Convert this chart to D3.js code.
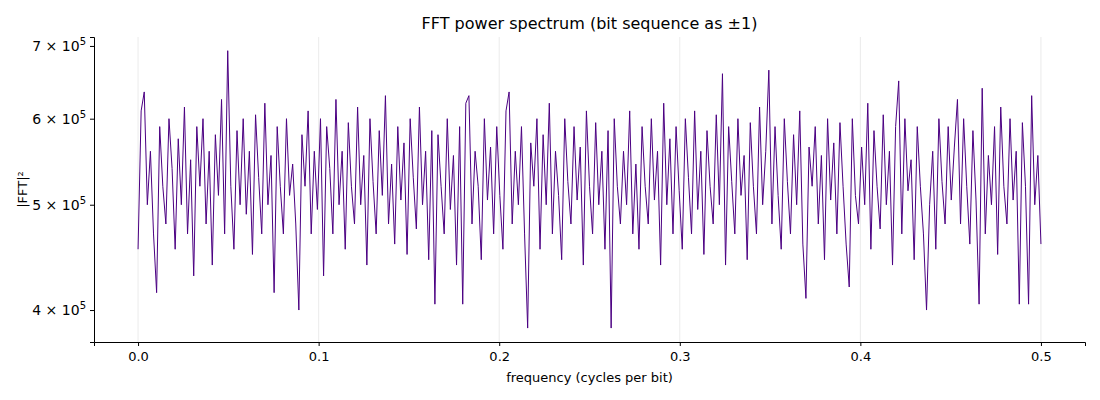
<!DOCTYPE html>
<html>
<head>
<meta charset="utf-8">
<script src="https://cdn.jsdelivr.net/npm/d3@7"></script>
<style>
  body { margin: 0; background: #fff; font-family: "DejaVu Sans", sans-serif; }
</style>
</head>
<body>
<div id="chart"></div>
<script>
// |FFT|^2 values in thousands, evenly spaced from 0 to 0.5 cycles per bit
const power = [
  455,610,635,500,560,470,415,590,520,480,600,540,455,575,500,615,470,550,430,590,
  520,600,480,560,440,580,510,625,470,693,520,455,585,500,600,490,560,450,605,530,
  470,620,500,555,415,590,520,470,600,510,545,480,400,580,520,610,470,560,495,600,
  430,590,540,470,625,500,560,455,595,520,480,615,500,555,440,600,525,470,585,510,
  630,480,545,460,590,505,570,450,600,530,475,615,500,560,445,585,405,580,520,470,
  600,495,555,440,590,405,620,630,480,560,520,445,600,505,565,470,590,510,455,610,
  635,480,560,500,590,470,385,570,520,600,455,580,500,620,470,560,510,445,600,525,
  480,590,505,565,440,610,520,470,595,500,560,455,585,385,600,520,480,560,500,610,
  470,545,455,590,520,480,600,505,560,440,620,500,575,470,590,515,455,600,530,470,
  610,495,560,450,585,520,480,605,500,660,440,590,525,470,600,510,555,445,595,520,
  470,615,500,560,665,480,590,510,455,600,525,470,580,500,610,460,410,565,520,590,
  480,555,445,600,505,570,470,595,520,460,420,600,510,480,565,500,620,455,585,520,
  475,605,500,560,440,590,650,470,600,515,550,445,590,520,470,400,500,560,455,600,
  525,480,590,505,565,625,480,600,520,460,585,505,405,640,470,555,500,590,450,615,
  520,480,600,505,560,405,595,520,405,630,500,555,460
];

const freq = power.map((d, i) => 0.5 * i / (power.length - 1));
const yTicks = [4e5, 5e5, 6e5, 7e5];
const xTicks = [0, 0.1, 0.2, 0.3, 0.4, 0.5];

const W = 1100, H = 400;
const m = { left: 94, right: 15, top: 37, bottom: 58 };

const svg = d3.select("#chart").append("svg").attr("width", W).attr("height", H);

const x = d3.scaleLinear().domain([-0.0244, 0.5244]).range([m.left, W - m.right]);
const y = d3.scaleLog().domain([3.738e5, 7.134e5]).range([H - m.bottom, m.top]);

// vertical grid
svg.append("g").selectAll("line").data(xTicks).join("line")
  .attr("x1", d => x(d)).attr("x2", d => x(d))
  .attr("y1", m.top).attr("y2", H - m.bottom)
  .attr("stroke", "#e6e6e6").attr("stroke-width", 0.8);

const line = d3.line().x((d, i) => x(freq[i])).y(d => y(d * 1000));
svg.append("path").datum(power)
  .attr("d", line).attr("fill", "none")
  .attr("stroke", "#4b0082").attr("stroke-width", 1);

// x axis
const xAxis = svg.append("g").attr("transform", `translate(0,${H - m.bottom})`)
  .call(d3.axisBottom(x).tickValues(xTicks).tickFormat(d3.format(".1f")).tickSizeOuter(0).tickSize(4).tickPadding(6));
xAxis.selectAll("text").attr("font-size", 13).attr("fill", "#000").attr("font-family", "DejaVu Sans");
xAxis.select(".domain").attr("stroke", "#000");

// y axis
const yAxis = svg.append("g").attr("transform", `translate(${m.left},0)`)
  .call(d3.axisLeft(y).tickValues(yTicks).tickFormat("").tickSizeOuter(0).tickSize(4));
yAxis.select(".domain").attr("stroke", "#000");
const yl = svg.append("g").selectAll("text").data(yTicks).join("text")
  .attr("x", m.left - 8).attr("y", d => y(d) + 5)
  .attr("text-anchor", "end").attr("font-size", 14);
yl.append("tspan").text(d => `${d / 1e5} × 10`);
yl.append("tspan").attr("dy", -6).attr("font-size", 10).text("5");

svg.append("text").attr("x", (m.left + W - m.right) / 2).attr("y", 29)
  .attr("text-anchor", "middle").attr("font-size", 16)
  .text("FFT power spectrum (bit sequence as ±1)");
svg.append("text").attr("x", (m.left + W - m.right) / 2).attr("y", 382)
  .attr("text-anchor", "middle").attr("font-size", 13)
  .text("frequency (cycles per bit)");
svg.append("text").attr("transform", `translate(27,${(m.top + H - m.bottom) / 2}) rotate(-90)`)
  .attr("text-anchor", "middle").attr("font-size", 13).text("|FFT|²");
</script>
</body>
</html>
